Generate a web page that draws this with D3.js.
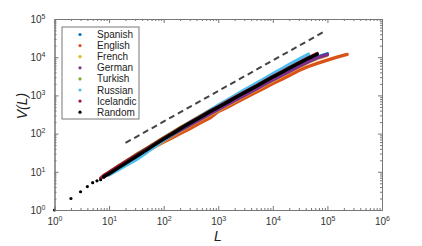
<!DOCTYPE html>
<html>
<head>
<meta charset="utf-8">
<script src="https://cdn.jsdelivr.net/npm/d3@7"></script>
<style>
  body { margin: 0; background: #fff; }
  svg { display: block; }
  text { font-family: "Liberation Sans", Arial, sans-serif; }
</style>
</head>
<body>
<div id="chart"></div>
<script>
// data
const languages = ['Spanish', 'English', 'French', 'German', 'Turkish', 'Russian', 'Icelandic', 'Random'];
const colors = ['#0072BD', '#D95319', '#EDB120', '#7E2F8E', '#77AC30', '#4DBEEE', '#A2142F', '#000000'];

const L = [7, 8, 10, 15, 20, 30, 50, 70, 100, 150, 200, 300, 500, 700, 1000, 1500, 2000, 3000,
  5000, 7000, 10000, 15000, 20000, 30000, 45000, 65000, 100000, 150000, 230000];

const spanish = [null, null, 9, 13, 16.8, 24, 37.5, 51, 70, 98, 126, 176, 265, 345, 455, 625, 780, 1070,
  1570, 2050, 2680, 3600, 4500, 6050, 8100, 10100, 12300, null, null];
const english = [null, null, 8.6, 12.5, 16, 23, 35, 46, 60, 80, 100, 135, 200, 255, 380, 500, 620, 840,
  1220, 1570, 2050, 2700, 3300, 4500, 5700, 6900, 8400, 10000, 11800];
const french = [null, null, 8.5, 12, 15.5, 22, 34.5, 46.5, 64, 90, 115, 160, 240, 312, 410, 560, 700, 960,
  1410, 1840, 2420, 3270, 4080, 5500, 7400, 9300, 11200, null, null];
const german = [null, null, 8.8, 12.8, 16.5, 23.5, 36.5, 49, 67, 94, 120, 166, 250, 325, 425, 585, 730, 1000,
  1470, 1920, 2520, 3400, 4250, 5700, 7650, 9600, 11600, null, null];
const turkish = [null, 7.8, 9.5, 14, 18.5, 27, 42, 57, 78, 110, 142, 200, 305, 400, 530, 740, 940, 1300,
  1950, 2560, 3400, 4650, 5800, 7900, 10700, null, null, null, null];
const russian = [null, null, 8.3, 11.5, 14.5, 20, 33, 47, 68, 100, 133, 195, 300, 405, 550, 770, 980, 1380,
  2080, 2750, 3700, 5100, 6400, 8800, 12000, null, null, null, null];
const icelandic = [6.8, 8, 9.8, 14.3, 18.5, 26.5, 41, 55, 76, 107, 138, 193, 292, 385, 505, 700, 880, 1210,
  1800, 2360, 3120, 4200, 5280, 7150, 9700, 12400, null, null, null];
const random = [null, 7.4, 8.9, 12.9, 16.6, 24, 38, 52, 72, 102, 132, 186, 282, 372, 490, 676, 851, 1175,
  1740, 2290, 3020, 4070, 5130, 6920, 9330, 12000, null, null, null];

// first few steps of the random text, drawn as dots
const randomDotL = [1, 2, 3, 4, 5, 6, 7, 8];
const randomDotV = [1, 2, 3, 4.1, 5.2, 5.8, 6.2, 7.2];

// dashed guide line
const guideL = [20, 83000];
const guideV = [57, 44800];

const seriesV = [spanish, english, french, german, turkish, russian, icelandic, random];

const width = 422, height = 246;
const x = d3.scaleLog().domain([1, 1e6]).range([54.5, 382]);
const y = d3.scaleLog().domain([1, 1e5]).range([210, 19]);

const svg = d3.select('#chart').append('svg')
  .attr('width', width)
  .attr('height', height);

// series
const line = d3.line()
  .defined(d => d[1] != null)
  .x(d => x(d[0]))
  .y(d => y(d[1]));

seriesV.forEach((vals, i) => {
  svg.append('path')
    .datum(L.map((l, j) => [l, vals[j]]))
    .attr('fill', 'none')
    .attr('stroke', colors[i])
    .attr('stroke-width', 3.4)
    .attr('stroke-linecap', 'round')
    .attr('stroke-linejoin', 'round')
    .attr('d', line);
});

svg.append('g').selectAll('circle')
  .data(randomDotL.map((l, j) => [l, randomDotV[j]]))
  .enter().append('circle')
  .attr('cx', d => x(d[0]))
  .attr('cy', d => y(d[1]))
  .attr('r', 1.6)
  .attr('fill', '#000');

svg.append('path')
  .datum(guideL.map((l, j) => [l, guideV[j]]))
  .attr('fill', 'none')
  .attr('stroke', '#444')
  .attr('stroke-width', 2)
  .attr('stroke-dasharray', '6,4')
  .attr('d', line);

// axes
const majorX = d3.range(0, 7).map(e => Math.pow(10, e));
const majorY = d3.range(0, 6).map(e => Math.pow(10, e));
const minorX = [], minorY = [];
majorX.slice(0, -1).forEach(m => { for (let k = 2; k < 10; k++) minorX.push(m * k); });
majorY.slice(0, -1).forEach(m => { for (let k = 2; k < 10; k++) minorY.push(m * k); });

function styleAxis(g) {
  g.select('.domain').attr('stroke', '#777').attr('stroke-width', 1);
  g.selectAll('.tick line').attr('stroke', '#777');
  g.selectAll('.tick text').attr('fill', '#333').attr('font-size', 10)
    .attr('font-family', '"Liberation Sans", Arial, sans-serif');
}

function supLabels(g) {
  g.selectAll('.tick text').each(function (d) {
    const t = d3.select(this);
    t.text('');
    t.append('tspan').text('10');
    t.append('tspan').attr('dy', -4).attr('font-size', 7).text(Math.round(Math.log10(d)));
  });
}

const xb = svg.append('g').attr('transform', 'translate(0,210)')
  .call(d3.axisBottom(x).tickValues(majorX).tickSizeInner(-4).tickSizeOuter(0).tickPadding(8));
styleAxis(xb); supLabels(xb);
const xbm = svg.append('g').attr('transform', 'translate(0,210)')
  .call(d3.axisBottom(x).tickValues(minorX).tickSizeInner(-2).tickSizeOuter(0).tickFormat(''));
styleAxis(xbm);

const xt = svg.append('g').attr('transform', 'translate(0,19)')
  .call(d3.axisTop(x).tickValues(majorX).tickSizeInner(-4).tickSizeOuter(0).tickFormat(''));
styleAxis(xt);
const xtm = svg.append('g').attr('transform', 'translate(0,19)')
  .call(d3.axisTop(x).tickValues(minorX).tickSizeInner(-2).tickSizeOuter(0).tickFormat(''));
styleAxis(xtm);

const yl = svg.append('g').attr('transform', 'translate(54.5,0)')
  .call(d3.axisLeft(y).tickValues(majorY).tickSizeInner(-4).tickSizeOuter(0).tickPadding(9));
styleAxis(yl); supLabels(yl);
const ylm = svg.append('g').attr('transform', 'translate(54.5,0)')
  .call(d3.axisLeft(y).tickValues(minorY).tickSizeInner(-2).tickSizeOuter(0).tickFormat(''));
styleAxis(ylm);

const yr = svg.append('g').attr('transform', 'translate(382,0)')
  .call(d3.axisRight(y).tickValues(majorY).tickSizeInner(-4).tickSizeOuter(0).tickFormat(''));
styleAxis(yr);
const yrm = svg.append('g').attr('transform', 'translate(382,0)')
  .call(d3.axisRight(y).tickValues(minorY).tickSizeInner(-2).tickSizeOuter(0).tickFormat(''));
styleAxis(yrm);

// axis titles
svg.append('text')
  .attr('x', 218).attr('y', 241)
  .attr('text-anchor', 'middle')
  .attr('font-family', '"Liberation Serif", "Times New Roman", serif')
  .attr('font-style', 'italic')
  .attr('font-size', 14)
  .attr('fill', '#222')
  .text('L');

svg.append('text')
  .attr('transform', 'translate(27,106) rotate(-90)')
  .attr('text-anchor', 'middle')
  .attr('font-family', '"Liberation Serif", "Times New Roman", serif')
  .attr('font-style', 'italic')
  .attr('font-size', 14)
  .attr('fill', '#222')
  .text('V(L)');

// legend
const legend = svg.append('g').attr('transform', 'translate(62,27)');
legend.append('rect')
  .attr('width', 77).attr('height', 92)
  .attr('fill', '#fff')
  .attr('stroke', '#777')
  .attr('stroke-width', 1);

const item = legend.selectAll('g.item')
  .data(languages)
  .enter().append('g')
  .attr('class', 'item')
  .attr('transform', (d, i) => `translate(0,${7.5 + i * 11.1})`);

item.append('circle')
  .attr('cx', 18).attr('cy', 0).attr('r', 1.6)
  .attr('fill', (d, i) => colors[i]);

item.append('text')
  .attr('x', 35).attr('y', 3.5)
  .attr('font-size', 10)
  .attr('fill', '#222')
  .text(d => d);
</script>
</body>
</html>
